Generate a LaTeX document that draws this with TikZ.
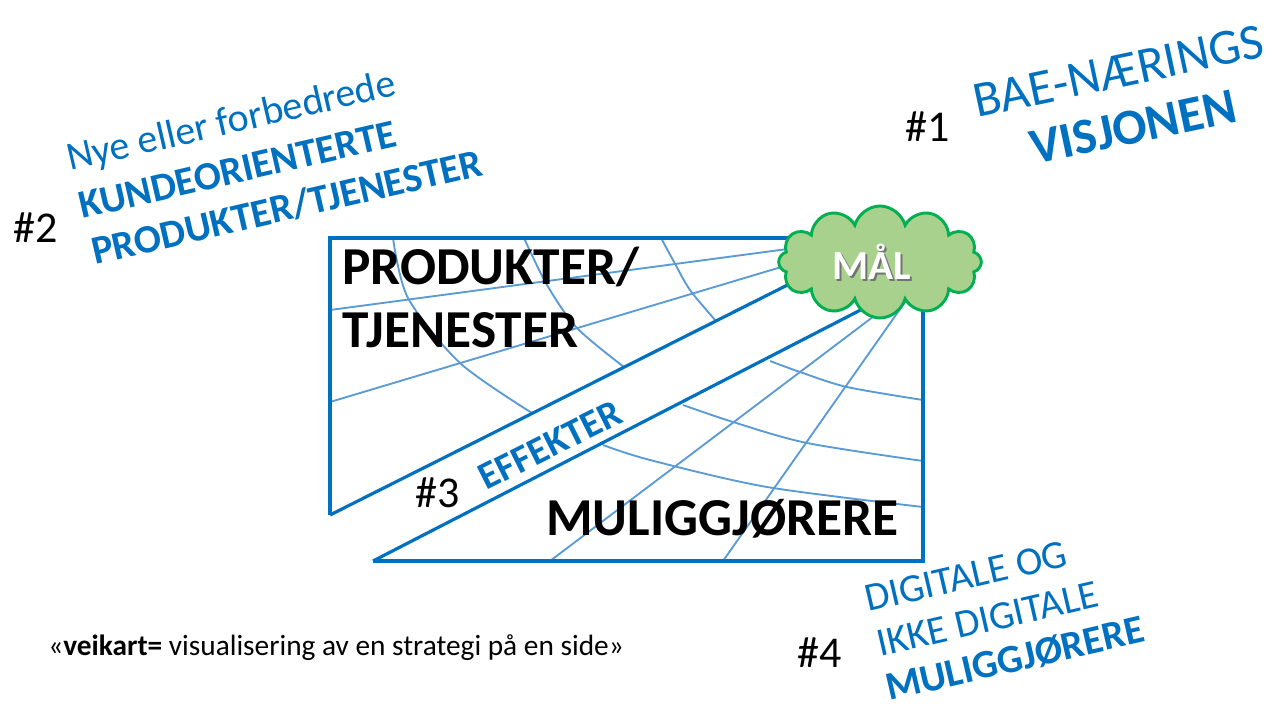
\documentclass[tikz,border=0pt]{standalone}
\usepackage{fontspec}
\setmainfont{Carlito}
\usetikzlibrary{shapes.symbols}
\definecolor{veiblue}{HTML}{0070C0}
\definecolor{gridblue}{HTML}{5B9BD5}
\definecolor{cloudfill}{HTML}{A9D18E}
\definecolor{cloudline}{HTML}{00B050}
\tikzset{
    gridline/.style={gridblue, line width=1.4pt},
    bandline/.style={veiblue, line width=2.4pt},
    bigtext/.style={font=\fontsize{40}{48}\selectfont\bfseries, anchor=base west, inner sep=0pt},
    numtext/.style={font=\fontsize{33}{40}\selectfont, anchor=base west, inner sep=0pt},
    slanttext/.style={veiblue, font=\fontsize{30}{36}\selectfont, anchor=base west, inner sep=0pt, rotate=13},
    slantbold/.style={slanttext, font=\fontsize{30}{36}\selectfont\bfseries}
}
\begin{document}
\begin{tikzpicture}[x=0.75pt, y=-0.75pt]
            \useasboundingbox (0,0) rectangle (1279,709);
            \coordinate (tl) at (330,238);
            \coordinate (tr) at (923,238);
            \coordinate (br) at (923,561);
            \coordinate (bl) at (373,561);
            \coordinate (lb) at (330,515);
            \coordinate (vp) at (885,236);
            \coordinate (vq) at (880,300);

            \draw[gridline] (330,310) -- (vp);
            \draw[gridline] (330,402) -- (vp);
            \draw[gridline] (550,561) -- (890,304);
            \draw[gridline] (723,561) -- (905,302);
            \draw[gridline] plot[smooth] coordinates {(393,238) (408,298) (460,363) (532,413)};
            \draw[gridline] plot[smooth] coordinates {(524,238) (547,285) (577,328) (624,367)};
            \draw[gridline] plot[smooth] coordinates {(661,238) (673,260) (690,290) (716,321)};
            \draw[gridline] plot[smooth] coordinates {(770,361) (800,372) (847,387) (923,400)};
            \draw[gridline] plot[smooth] coordinates {(683,405) (733,422) (807,443) (923,461)};
            \draw[gridline] plot[smooth] coordinates {(603,445) (650,460) (767,487) (923,507)};

            \draw[bandline] (lb) -- (tl) -- (tr) -- (br) -- (bl);
            \draw[bandline] (lb) -- (vp);
            \draw[bandline] (bl) -- (vq);

            \node[cloud, cloud puffs=12, aspect=2, draw=cloudline, fill=cloudfill, line width=2.2pt,
                minimum width=152pt, minimum height=84pt, inner sep=0pt] (goal) at (880,262) {};
            \node[font=\fontsize{31}{37}\selectfont\bfseries, text=black!55] (goalshadow) at (873.5,263.5) {MÅL};
            \node[font=\fontsize{31}{37}\selectfont\bfseries, text=white] (goaltext) at (872,262) {MÅL};

            \node[bigtext] (produkter) at (342,285) {PRODUKTER/};
            \node[bigtext] (tjenester) at (342,348) {TJENESTER};
            \node[bigtext] (muliggj) at (546,535) {MULIGGJØRERE};
            \node[veiblue, font=\fontsize{29}{35}\selectfont\bfseries, rotate=26.7, inner sep=0pt] (effekter) at (550,445) {EFFEKTER};

            \node[numtext] (num1) at (905,142) {\#1};
            \node[numtext] (num2) at (13,243) {\#2};
            \node[numtext] (num3) at (415,507) {\#3};
            \node[numtext] (num4) at (797,667) {\#4};

            \node[slanttext, rotate=-1, font=\fontsize{38}{46}\selectfont] (bae) at (977,118) {BAE-NÆRINGS};
            \node[slantbold, rotate=-1, font=\fontsize{38}{46}\selectfont\bfseries] (visjonen) at (1034,165) {VISJONEN};

            \node[slanttext] (nye) at (70,171) {Nye eller forbedrede};
            \node[slantbold] (kunde) at (82,219) {KUNDEORIENTERTE};
            \node[slantbold] (prodtj) at (95,265) {PRODUKTER/TJENESTER};

            \node[slanttext] (digitale) at (868,612) {DIGITALE OG};
            \node[slanttext] (ikke) at (880,657) {IKKE DIGITALE};
            \node[slantbold] (muligb) at (889,701) {MULIGGJØRERE};

            \node[font=\fontsize{22}{26}\selectfont, anchor=base west, inner sep=0pt] (caption) at (48,655) {«\textbf{veikart=} visualisering av en strategi på en side»};
    \end{tikzpicture}
\end{document}
